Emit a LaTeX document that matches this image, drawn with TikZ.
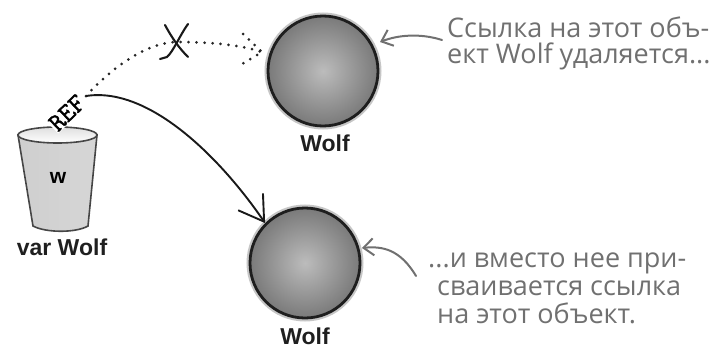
\documentclass[tikz,border=0pt]{standalone}
\usepackage{fontspec}
\setmainfont{Liberation Sans}
\newfontfamily\handfont{Open Sans}
\newfontfamily\typefont[FakeBold=1.6]{Latin Modern Mono}
\usetikzlibrary{arrows.meta}

\definecolor{inkgray}{RGB}{112,112,112}
\definecolor{balllight}{RGB}{188,188,188}
\definecolor{balldark}{RGB}{122,122,122}
\definecolor{balledge}{RGB}{30,30,30}
\definecolor{cupedge}{RGB}{70,70,70}

\begin{document}
\begin{tikzpicture}[x=1pt,y=-1pt,
  lbl/.style={font=\bfseries\fontsize{23}{26}\selectfont, text=black!88, inner sep=0},
  note/.style={font=\handfont\fontsize{27}{30}\selectfont, text=inkgray, anchor=base west, inner sep=0},
  ballobj/.style={circle, minimum size=110pt, inner sep=0, draw=balledge, line width=2.8pt,
    inner color=balllight, outer color=balldark,
    preaction={draw=gray!45, line width=7pt}},
  linkline/.style={line width=1.9pt, draw=black!90},
  deadline/.style={line width=3pt, draw=black!85, dash pattern=on 0pt off 8pt, line cap=round},
  pointer/.style={line width=2pt, draw=inkgray, line cap=round,
    -{Straight Barb[length=10pt,width=17pt,line width=2pt]}}
]
\useasboundingbox (0,0) rectangle (723,348);

% the cup holding the reference variable
\path[left color=gray!38, middle color=white, right color=gray!32, draw=cupedge, line width=1.6pt]
  (18,135) -- (33,226) .. controls (46,233) and (76,233) .. (88,226) -- (97,135) -- cycle;
\path[top color=gray!25, bottom color=white, draw=cupedge, line width=1.6pt]
  (57.5,135) ellipse [x radius=39.5, y radius=8];
\node[font=\bfseries\fontsize{21}{24}\selectfont, inner sep=0] (cupw) at (58,178) {w};
\node[lbl] (cuplbl) at (62,247) {var Wolf};
\node[rotate=44, fill=white, inner sep=0.5pt, font=\typefont\fontsize{26}{28}\selectfont] (ref) at (67,113) {REF};
\coordinate (refend) at (86,96);

% the two Wolf objects
\node[ballobj] (topball) at (323,71) {};
\node[ballobj] (botball) at (305,263) {};
\node[lbl] (toplbl) at (325,143) {Wolf};
\node[lbl] (botlbl) at (305,336) {Wolf};

% the old, removed reference
\coordinate (cross) at (177,42);
\coordinate (deadtip) at (262,52);
\draw[deadline] (refend) .. controls (115,64) and (150,42) .. (cross)
  .. controls (205,42) and (238,44) .. (deadtip);
\draw[deadline] (243,34) -- (deadtip) -- (242,64);
\draw[linkline, line width=2.1pt, line cap=round] (165,25) .. controls (172,38) and (179,48) .. (188,57);
\draw[linkline, line width=2.1pt, line cap=round] (188,24) .. controls (180,35) and (173,52) .. (167,57) -- (160,59);

% the new reference
\draw[linkline, -{Straight Barb[length=24pt,width=30pt,line width=1.9pt]}]
  (refend) .. controls (150,86) and (222,160) .. (botball.135);

% notes
\node[note] (note1a) at (447,37) {Ссылка на этот объ-};
\node[note] (note1b) at (447,63) {ект Wolf удаляется...};
\node[note] (note2a) at (428,267) {...и вместо нее при-};
\node[note] (note2b) at (437,295) {сваивается ссылка};
\node[note] (note2c) at (437,323) {на этот объект.};

\coordinate (tip1) at (380,42);
\coordinate (tip2) at (362,248);
\draw[pointer] ([xshift=-5pt,yshift=-3pt]note1a.base west) .. controls (420,33) and (398,35) .. (tip1);
\draw[pointer] ([xshift=-12pt,yshift=-9pt]note2a.base west) .. controls (400,249) and (382,246) .. (tip2);
\end{tikzpicture}
\end{document}
